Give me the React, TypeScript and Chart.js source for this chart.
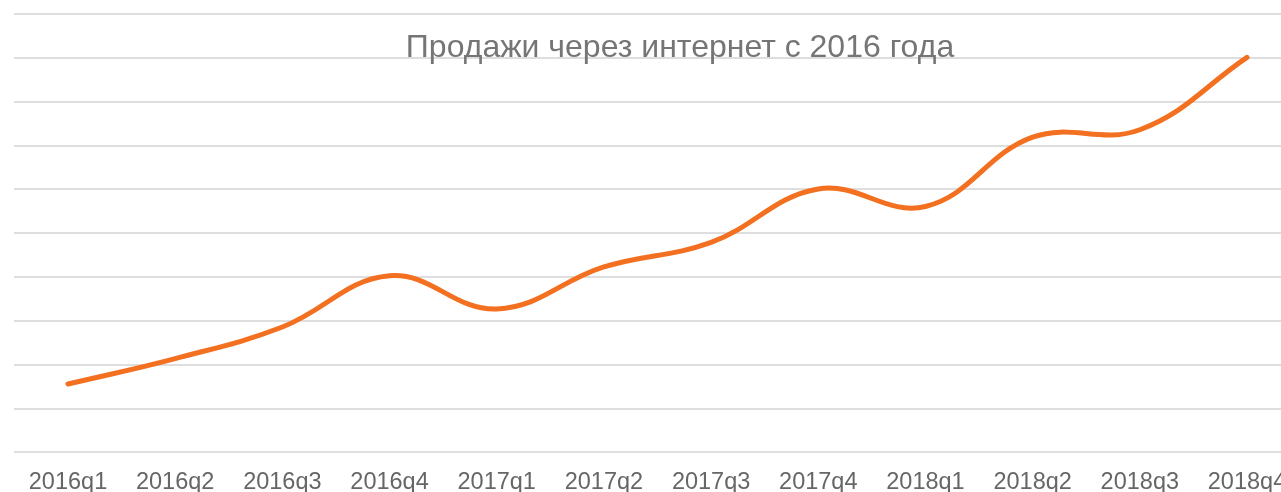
import React, { useEffect, useRef } from "react";
import { Chart, registerables } from "chart.js";

Chart.register(...registerables);

const TITLE = "Продажи через интернет с 2016 года";
const categories = [
  "2016q1", "2016q2", "2016q3", "2016q4",
  "2017q1", "2017q2", "2017q3", "2017q4",
  "2018q1", "2018q2", "2018q3", "2018q4",
];
const sales = [1.56, 2.14, 2.86, 4.03, 3.27, 4.23, 4.79, 6.01, 5.61, 7.19, 7.36, 9.01];
const yMin = 0;
const yMax = 10;
const yStep = 1;

const FONT = "'Liberation Sans', Arial, Helvetica, sans-serif";

const titlePlugin = {
  id: "overlayTitle",
  afterDraw(chart: any) {
    const ctx = chart.ctx;
    ctx.save();
    ctx.font = `32px ${FONT}`;
    ctx.fillStyle = "#757575";
    ctx.textAlign = "center";
    ctx.textBaseline = "alphabetic";
    ctx.fillText(TITLE, 680, 56.5);
    ctx.restore();
  },
};

export default function App() {
  const ref = useRef<HTMLCanvasElement | null>(null);
  useEffect(() => {
    if (!ref.current) return;
    const chart = new Chart(ref.current, {
      type: "line",
      data: {
        labels: categories,
        datasets: [
          {
            data: sales,
            borderColor: "#F37021",
            borderWidth: 5,
            borderCapStyle: "round",
            borderJoinStyle: "round",
            pointRadius: 0,
            pointHoverRadius: 0,
            tension: 0.4,
            fill: false,
          },
        ],
      },
      options: {
        animation: false,
        responsive: false,
        layout: { padding: { top: 14, left: 14.4, right: 9.4, bottom: 5.4 } },
        plugins: {
          legend: { display: false },
          title: { display: false },
          tooltip: { enabled: false },
        },
        scales: {
          x: {
            offset: true,
            grid: { display: false },
            border: { display: false },
            ticks: {
              color: "#666666",
              padding: 8,
              maxRotation: 0,
              autoSkip: false,
              font: { family: FONT, size: 23.5 },
            },
          },
          y: {
            min: yMin,
            max: yMax,
            ticks: { display: false, stepSize: yStep },
            border: { display: false },
            grid: { color: "#dedede", lineWidth: 2, drawTicks: false },
          },
        },
      },
      plugins: [titlePlugin],
    });
    return () => chart.destroy();
  }, []);
  return (
    <div style={{ position: "fixed", left: 0, top: 0, width: "100vw", height: "100vh", overflow: "hidden", background: "#fff" }}>
      <canvas ref={ref} width={1310} height={510} style={{ display: "block" }} />
    </div>
  );
}
